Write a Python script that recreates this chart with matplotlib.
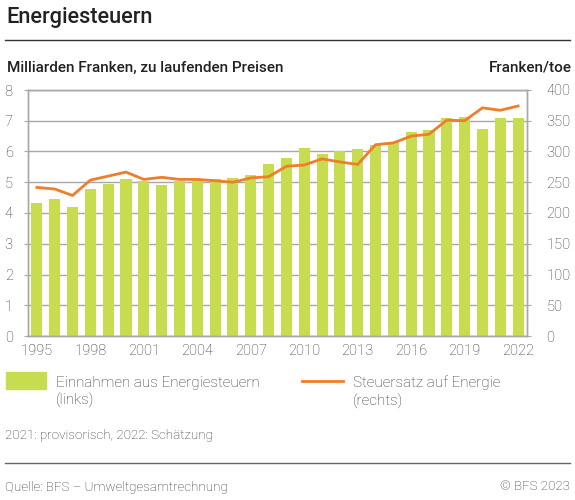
import matplotlib
matplotlib.use("Agg")
import matplotlib.pyplot as plt
from matplotlib.patches import Rectangle
from matplotlib.lines import Line2D
import numpy as np

years = list(range(1995, 2023))
einnahmen = [4.33, 4.45, 4.18, 4.77, 4.95, 5.09, 5.03, 4.92, 5.04, 5.07, 5.11, 5.14, 5.23, 5.59,
             5.80, 6.12, 5.92, 6.02, 6.07, 6.20, 6.32, 6.65, 6.70, 7.10, 7.11, 6.73, 7.10, 7.08]
steuersatz = [241.6, 239, 228.5, 253.5, 260, 266.5, 254.6, 258, 254.6, 254.6, 252.4, 250, 257, 259,
              276, 278, 288, 283, 279, 311, 314, 325, 328, 351, 350, 371, 367, 374]
xtick_years = [1995, 1998, 2001, 2004, 2007, 2010, 2013, 2016, 2019, 2022]
left_ticks = [0, 1, 2, 3, 4, 5, 6, 7, 8]
right_ticks = [0, 50, 100, 150, 200, 250, 300, 350, 400]

BAR = "#c8dc50"
ORANGE = "#f07d28"
GRID = "#a8a8a8"
TXT = "#333333"

plt.rcParams['font.family'] = ['Roboto', 'DejaVu Sans']

W, H = 575, 500
fig = plt.figure(figsize=(W / 100, H / 100), dpi=100)

def fx(x):
    return x / W

def fy(y):
    return 1 - y / H

ax_l, ax_r, ax_t, ax_b = 28, 527, 90, 336
ax = fig.add_axes([fx(ax_l), fy(ax_b), (ax_r - ax_l) / W, (ax_b - ax_t) / H])
ax2 = ax.twinx()

x = np.arange(len(years))
ax.bar(x, einnahmen, width=0.62, color=BAR, zorder=2)
ax.set_xlim(-0.5, len(years) - 0.5)
ax.set_ylim(0, 8)
ax.set_yticks(left_ticks)
ax.grid(axis='y', color=GRID, linewidth=1, zorder=0)
ax.set_axisbelow(True)
ax.set_xticks([years.index(y) for y in xtick_years])
ax.set_xticklabels([str(y) for y in xtick_years])

ax2.plot(x, steuersatz, color=ORANGE, linewidth=2, zorder=3)
ax2.set_ylim(0, 400)
ax2.set_yticks(right_ticks)

for a in (ax, ax2):
    for s in a.spines.values():
        s.set_color(GRID)
        s.set_linewidth(1)
ax.tick_params(axis='y', length=3, color=GRID, pad=8, labelsize=10.5, labelcolor=TXT)
ax.tick_params(axis='x', length=0, pad=6, labelsize=10.5, labelcolor=TXT)
ax2.tick_params(axis='y', length=3, color=GRID, pad=11, labelsize=10.5, labelcolor=TXT)
for lab in ax.get_yticklabels() + ax.get_xticklabels() + ax2.get_yticklabels():
    lab.set_fontweight('light')

# Title and header
fig.text(fx(6), fy(18), "Energiesteuern", fontsize=15.7, fontweight='medium', color="#222222",
         ha='left', va='center')
fig.add_artist(Line2D([fx(5), fx(570)], [fy(39.5), fy(39.5)], color="#333333", linewidth=1))
fig.text(fx(7), fy(68), "Milliarden Franken, zu laufenden Preisen", fontsize=11, fontweight='medium',
         color="#222222", ha='left', va='center')
fig.text(fx(572), fy(68), "Franken/toe", fontsize=11, fontweight='medium', color="#222222",
         ha='right', va='center')

# Legend
fig.add_artist(Rectangle((fx(6), fy(389)), 40 / W, 17 / H, color=BAR, transform=fig.transFigure))
fig.text(fx(56), fy(392), "Einnahmen aus Energiesteuern\n(links)", fontsize=11, fontweight='light',
         color=TXT, ha='left', va='center', linespacing=1.3)
fig.add_artist(Line2D([fx(302), fx(343)], [fy(381), fy(381)], color=ORANGE, linewidth=2))
fig.text(fx(353), fy(392), "Steuersatz auf Energie\n(rechts)", fontsize=11, fontweight='light',
         color=TXT, ha='left', va='center', linespacing=1.3)

fig.text(fx(5), fy(436), "2021: provisorisch, 2022: Schätzung", fontsize=9.6, fontweight='light',
         color=TXT, ha='left', va='center')
fig.add_artist(Line2D([fx(5), fx(570)], [fy(463), fy(463)], color="#666666", linewidth=1))
fig.text(fx(5), fy(487), "Quelle: BFS – Umweltgesamtrechnung", fontsize=9.6, fontweight='light',
         color=TXT, ha='left', va='center')
fig.text(fx(570), fy(487), "© BFS 2023", fontsize=9.6, fontweight='light',
         color=TXT, ha='right', va='center')

fig.savefig("out.png", dpi=100)
